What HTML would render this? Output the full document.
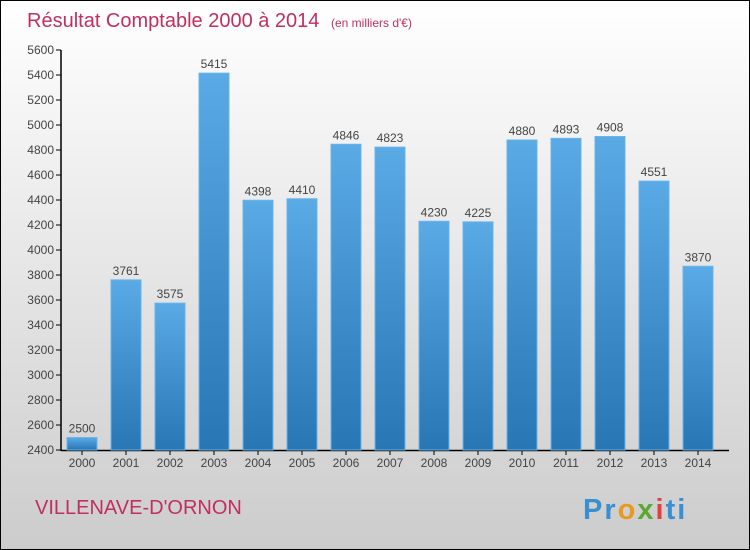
<!DOCTYPE html>
<html><head><meta charset="utf-8"><style>
body{margin:0;}
#wrap{position:relative;width:748px;height:548px;border:1px solid #000;background:linear-gradient(#ffffff,#cccccc);overflow:hidden;font-family:"Liberation Sans",sans-serif;}
</style></head><body>
<div id="wrap">
<svg id="chart" width="748" height="548">
<defs>
<linearGradient id="bg" x1="0" y1="0" x2="0" y2="1">
<stop offset="0" stop-color="#5aaae6"/><stop offset="1" stop-color="#2876b4"/>
</linearGradient>
</defs>
<text x="26" y="26" font-size="20" fill="#c0305e">Résultat Comptable 2000 à 2014 <tspan font-size="12" dx="6">(en milliers d'€)</tspan></text>
<text x="34" y="513" font-size="20" fill="#c0305e">VILLENAVE-D'ORNON</text>
<text x="582" y="518" font-size="29" font-weight="bold" letter-spacing="2"><tspan fill="#3a8fd0">Pr</tspan><tspan fill="#e89a20">o</tspan><tspan fill="#5aa830">x</tspan><tspan fill="#e04040">i</tspan><tspan fill="#3a8fd0">ti</tspan></text>
<g id="axes"></g><g id="bars"></g>
</svg>
</div>
<script>
const years=["2000","2001","2002","2003","2004","2005","2006","2007","2008","2009","2010","2011","2012","2013","2014"];
const values=[2500,3761,3575,5415,4398,4410,4846,4823,4230,4225,4880,4893,4908,4551,3870];
const yTicks=[2400,2600,2800,3000,3200,3400,3600,3800,4000,4200,4400,4600,4800,5000,5200,5400,5600];
const NS="http://www.w3.org/2000/svg";
const y=v=>449-(v-2400)/3200*400;
const x=i=>81+i*44;
const axes=document.getElementById('axes'),bars=document.getElementById('bars');
function mk(t,a,p){const e=document.createElementNS(NS,t);for(const k in a)e.setAttribute(k,a[k]);p.appendChild(e);return e;}
yTicks.forEach(t=>{
 const l=mk('line',{x1:55,x2:60,y1:y(t),y2:y(t),stroke:'#000'},axes);
 
 
 const tx=mk('text',{x:53,y:y(t)+4,'text-anchor':'end','font-size':12,fill:'#444'},axes);tx.textContent=t;
 
 
});
years.forEach((yr,i)=>{
 const v=values[i];
 const r=mk('rect',{x:x(i)-15,y:y(v),width:30,height:449-y(v),fill:'url(#bg)',stroke:'#6ab4ea','stroke-width':1},bars);
 
 
 const lt=mk('text',{x:x(i),y:y(v)-5,'text-anchor':'middle','font-size':12,fill:'#444'},bars);lt.textContent=v;
 
 
 mk('line',{x1:x(i),x2:x(i),y1:449,y2:454,stroke:'#000'},axes);
 const xt=mk('text',{x:x(i),y:466,'text-anchor':'middle','font-size':12,fill:'#444'},axes);xt.textContent=yr;
 
 
});
const ya=mk('line',{x1:60,x2:60,y1:49,y2:450,stroke:'#000','stroke-width':1.5},axes);


const xa=mk('line',{x1:60,x2:728,y1:449.5,y2:449.5,stroke:'#000','stroke-width':1.5},axes);


</script>
</body></html>
